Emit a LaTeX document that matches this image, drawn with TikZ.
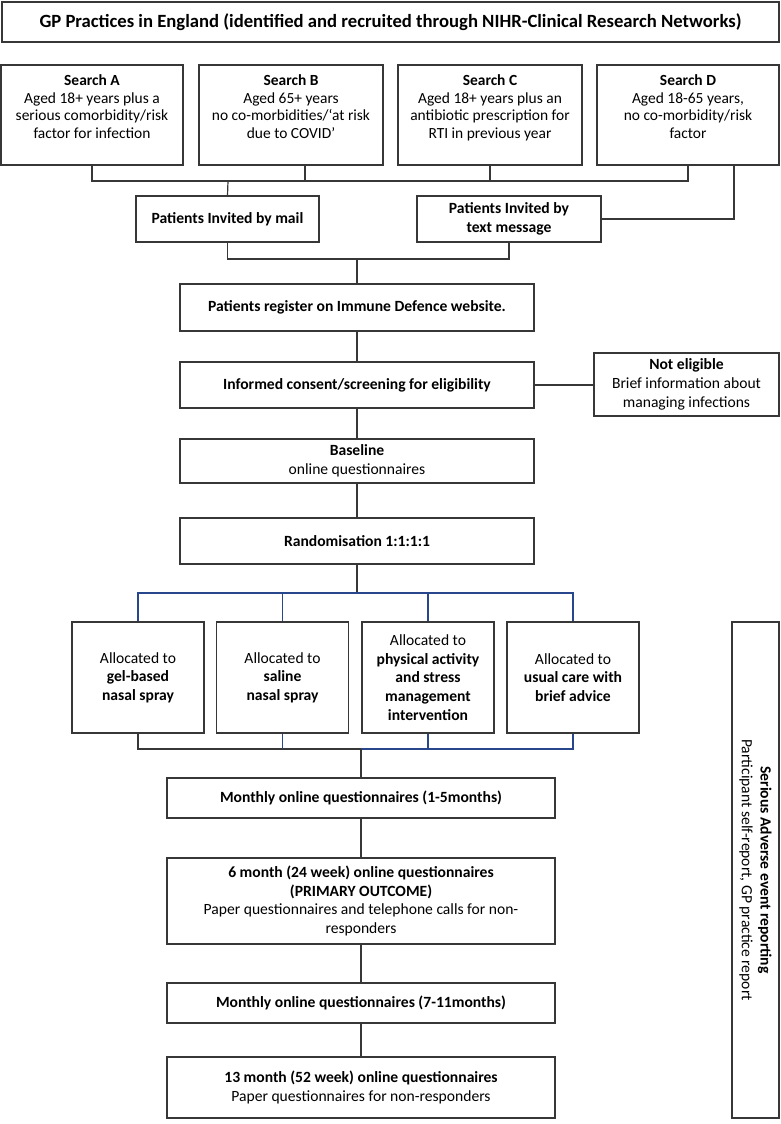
\documentclass[tikz,border=0pt]{standalone}
\usepackage{fontspec}
\setmainfont{Carlito}
\usepackage{tikz}

\definecolor{edgegray}{RGB}{55,55,55}
\definecolor{linkblue}{RGB}{40,70,140}
\tikzset{
    sz/.style 2 args={minimum width=#1*0.75pt, minimum height=#2*0.75pt},
    box/.style={draw=edgegray, line width=1pt, inner sep=2pt, align=center},
    boldbox/.style={box, font=\fontsize{11.7}{14}\selectfont\bfseries},
    boxtext/.style={below, align=center, inner sep=0pt, font=\fontsize{11.6}{13.2}\selectfont},
    link/.style={draw=edgegray, line width=0.9pt},
    bluelink/.style={draw=linkblue, line width=0.9pt},
}

\begin{document}
\begin{tikzpicture}[x=0.75pt, y=-0.75pt, font=\fontsize{11.7}{14}\selectfont]
    \useasboundingbox (0,0) rectangle (781,1124);
    \node[box, sz={777}{40}, font=\fontsize{14}{16}\selectfont\bfseries] (gp) at (390.5,22) {GP Practices in England (identified and recruited through NIHR-Clinical Research Networks)};

    \node[box, sz={182}{100}] (sa) at (92,115) {};
    \node[boxtext] (saT) at ([yshift=-7.5pt]sa.north) {\textbf{Search A}\\Aged 18+ years plus a\\serious comorbidity/risk\\factor for infection};
    \node[box, sz={184}{100}] (sb) at (291,115) {};
    \node[boxtext] (sbT) at ([yshift=-7.5pt]sb.north) {\textbf{Search B}\\Aged 65+ years\\no co-morbidities/‘at risk\\due to COVID’};
    \node[box, sz={184}{100}] (sc) at (490,115) {};
    \node[boxtext] (scT) at ([yshift=-7.5pt]sc.north) {\textbf{Search C}\\Aged 18+ years plus an\\antibiotic prescription for\\RTI in previous year};
    \node[box, sz={182}{100}] (sd) at (688,115) {};
    \node[boxtext] (sdT) at ([yshift=-7.5pt]sd.north) {\textbf{Search D}\\Aged 18-65 years,\\no co-morbidity/risk\\factor};

    \node[boldbox, sz={183}{46}] (mail) at (227.5,219) {Patients Invited by mail};
    \node[boldbox, sz={184}{46}] (sms) at (509,219) {Patients Invited by\\text message};
    \node[boldbox, sz={354}{47}] (reg) at (357,307.5) {Patients register on Immune Defence website.};
    \node[boldbox, sz={354}{46}] (elig) at (357,385) {Informed consent/screening for eligibility};
    \node[box, sz={185}{63}] (notel) at (686.5,384.5) {\textbf{Not eligible}\\Brief information about\\managing infections};
    \node[box, sz={354}{44}] (base) at (357,461) {\textbf{Baseline}\\online questionnaires};
    \node[boldbox, sz={354}{46}] (rand) at (357,541) {Randomisation 1:1:1:1};

    \node[box, sz={132}{111}] (gel) at (138,677.5) {Allocated to\\\textbf{gel-based}\\\textbf{nasal spray}};
    \node[box, sz={132}{111}] (saline) at (282.5,677.5) {Allocated to\\\textbf{saline}\\\textbf{nasal spray}};
    \node[box, sz={132}{111}] (activ) at (428,677.5) {Allocated to\\\textbf{physical activity}\\\textbf{and stress}\\\textbf{management}\\\textbf{intervention}};
    \node[box, sz={132}{111}] (usual) at (573,677.5) {Allocated to\\\textbf{usual care with}\\\textbf{brief advice}};

    \node[boldbox, sz={388}{40}] (mon1) at (361,798) {Monthly online questionnaires (1-5months)};
    \node[box, sz={388}{86}] (six) at (361,901) {\textbf{6 month (24 week) online questionnaires}\\\textbf{(PRIMARY OUTCOME)}\\Paper questionnaires and telephone calls for non-\\responders};
    \node[boldbox, sz={388}{40}] (mon2) at (361,1003) {Monthly online questionnaires (7-11months)};
    \node[box, sz={388}{61}] (thirteen) at (361,1087.5) {\textbf{13 month (52 week) online questionnaires}\\Paper questionnaires for non-responders};

    \node[box, rotate=-90, sz={496}{47}] (sae) at (755.5,870) {\textbf{Serious Adverse event reporting}\\Participant self-report, GP practice report};

    \coordinate (j1) at (228,181);
    \coordinate (j2) at (357,259);
    \coordinate (j3) at (357,593);
    \coordinate (j4) at (361,749);

    \draw[link] (sa.south) |- (sd.south |- j1) -- (sd.south);
    \draw[link] ([xshift=10.5pt]sb.south) -- ([xshift=10.5pt]sb.south |- j1);
    \draw[link] (sc.south) -- (sc.south |- j1);
    \draw[link] (j1) -- (mail.north);
    \draw[link] ([xshift=34.5pt]sd.south) |- (sms.east);
    \draw[link] (mail.south) |- (j2) -| (sms.south);
    \draw[link] (j2) -- (reg.north);
    \draw[link] (reg.south) -- (elig.north);
    \draw[link] (elig.east) -- (notel.west |- elig.east);
    \draw[link] (elig.south) -- (base.north);
    \draw[link] (base.south) -- (rand.north);
    \draw[link] (rand.south) -- (j3);
    \draw[bluelink] (gel.north) |- (usual.north |- j3) -- (usual.north);
    \draw[bluelink] (saline.north) -- (saline.north |- j3);
    \draw[bluelink] (activ.north) -- (activ.north |- j3);
    \draw[link] (gel.south) |- (j4);
    \draw[bluelink] (j4) -| (usual.south);
    \draw[bluelink] (saline.south) -- (saline.south |- j4);
    \draw[bluelink] (activ.south) -- (activ.south |- j4);
    \draw[link] (j4) -- (mon1.north);
    \draw[link] (mon1.south) -- (six.north);
    \draw[link] (six.south) -- (mon2.north);
    \draw[link] (mon2.south) -- (thirteen.north);
\end{tikzpicture}
\end{document}
